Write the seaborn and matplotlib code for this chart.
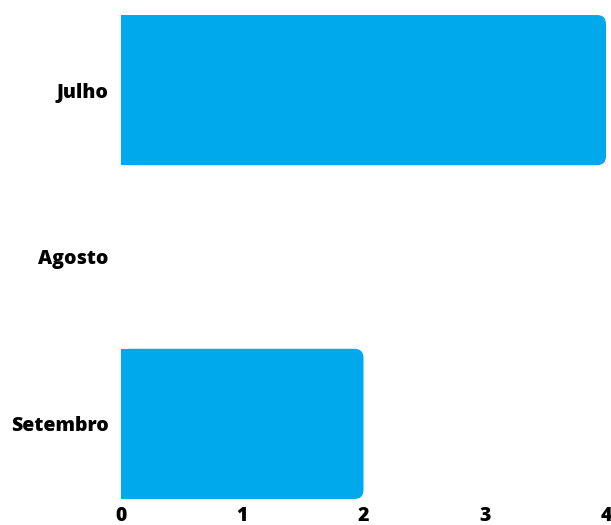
import matplotlib
matplotlib.use("Agg")
import matplotlib.pyplot as plt
import seaborn as sns
import pandas as pd
from matplotlib.patches import FancyBboxPatch, Rectangle

categories = ["Julho", "Agosto", "Setembro"]
values = [4, 0, 2]
xticks = [0, 1, 2, 3, 4]

sns.set_theme(style="white")
plt.rcParams['font.family'] = ['Open Sans', 'DejaVu Sans']

W, H = 611, 525
fig = plt.figure(figsize=(W / 100, H / 100), dpi=100)
ax = fig.add_axes([121 / W, 26 / H, 485 / W, 484 / H])

df = pd.DataFrame({"mes": categories, "valor": values})
color = "#00A8EC"
sns.barplot(data=df, x="valor", y="mes", orient="h", color=color,
            saturation=1, width=0.9, ax=ax)

ax.set_xlim(0, 4)
ax.set_ylim(2.45, -0.45)

# rounded right corners
px_x = 485 / 4.0
px_y = 484 / 2.9
r_px = 9
rx = r_px / px_x
ry = r_px / px_y
for p in list(ax.patches):
    x, y, w, h = p.get_x(), p.get_y(), p.get_width(), p.get_height()
    p.remove()
    if w <= 0:
        continue
    fb = FancyBboxPatch((x, y), w, h,
                        boxstyle=f"round,pad=0,rounding_size={rx}",
                        mutation_aspect=ry / rx,
                        facecolor=color, edgecolor="none", linewidth=0)
    ax.add_patch(fb)
    ax.add_patch(Rectangle((x, y), w / 2, h, facecolor=color,
                           edgecolor="none", linewidth=0))

ax.set_xticks(xticks)
ax.set_xticklabels([str(t) for t in xticks])
for s in ax.spines.values():
    s.set_visible(False)
ax.set_xlabel("")
ax.set_ylabel("")
ax.tick_params(axis="both", length=0, labelsize=14, colors="black")
ax.tick_params(axis="y", pad=9)
ax.tick_params(axis="x", pad=5)
for lab in ax.get_xticklabels() + ax.get_yticklabels():
    lab.set_fontweight("heavy")
ax.grid(False)

fig.savefig("out.png", dpi=100)
